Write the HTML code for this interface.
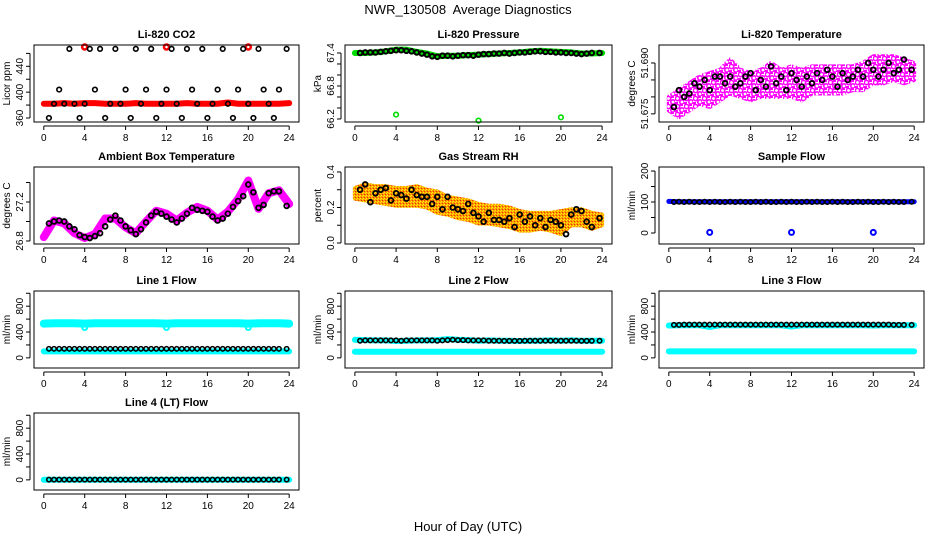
<!DOCTYPE html>
<html><head><meta charset="utf-8"><style>
body{margin:0;background:#fff;}
svg{display:block;font-family:"Liberation Sans",Arial,sans-serif;}
</style></head><body>
<svg id="chart" width="936" height="540" viewBox="0 0 936 540" xmlns="http://www.w3.org/2000/svg">
<defs>
<pattern id="rhpat" width="3" height="3" patternUnits="userSpaceOnUse">
<rect width="3" height="3" fill="#ff9900"/><rect x="0" y="0" width="1" height="1" fill="#ffff00"/><rect x="2" y="1" width="1" height="1" fill="#ffee00"/><rect x="1" y="2" width="1" height="1" fill="#ee3300"/>
</pattern>
<pattern id="magpat" width="9" height="8" patternUnits="userSpaceOnUse">
<rect width="9" height="8" fill="#ffffff"/>
<circle cx="2.5" cy="2.5" r="2.2" fill="none" stroke="#ff00ff" stroke-width="1.6"/>
<circle cx="7" cy="6" r="2.2" fill="none" stroke="#ff00ff" stroke-width="1.6"/>
<rect x="5" y="0" width="3" height="2" fill="#ff00ff"/>
<rect x="0" y="6" width="3" height="2" fill="#ff00ff"/>
</pattern>
</defs>
<text x="468" y="14" font-size="13" text-anchor="middle" style="white-space:pre">NWR_130508  Average Diagnostics</text>
<text x="468" y="531" font-size="13" text-anchor="middle">Hour of Day (UTC)</text>
</svg>
<script>
const hours=[0,1,2,3,4,5,6,7,8,9,10,11,12,13,14,15,16,17,18,19,20,21,22,23,24];
const halfHours=[0.5,1,1.5,2,2.5,3,3.5,4,4.5,5,5.5,6,6.5,7,7.5,8,8.5,9,9.5,10,10.5,11,11.5,12,12.5,13,13.5,14,14.5,15,15.5,16,16.5,17,17.5,18,18.5,19,19.5,20,20.5,21,21.5,22,22.5,23,23.75];
const xTicks=[0,4,8,12,16,20,24];
const outlierHours=[4,12,20];

// CO2
const co2Black=[360,382,404,382,467,382,360,382,467,404,467,360,382,467,382,404,360,467,382,404,467,360,382,404,467,382,360,467,404,382,467,360,382,404,467,382,360,404,467,382,360,467,404,382,360,404,467];
const co2Red=[382,382,383,382,383,383,382,382,382,383,382,382,382,382,383,382,382,382,384,382,382,382,382,382,383];
const co2RedOut=[470,470,470];
// Pressure
const presGreen=[67.40,67.40,67.41,67.43,67.46,67.46,67.42,67.39,67.34,67.35,67.35,67.36,67.37,67.38,67.39,67.40,67.41,67.43,67.44,67.43,67.42,67.41,67.39,67.39,67.40];
const presBlack=[67.40,67.41,67.41,67.41,67.42,67.43,67.44,67.45,67.45,67.44,67.43,67.41,67.39,67.37,67.34,67.33,67.35,67.35,67.34,67.35,67.36,67.36,67.35,67.37,67.38,67.38,67.39,67.39,67.40,67.39,67.40,67.41,67.41,67.42,67.43,67.43,67.42,67.42,67.41,67.41,67.40,67.40,67.39,67.38,67.39,67.40,67.40];
const presOut=[66.28,66.17,66.23];
// Li-820 temperature
const tempLo=[51.676,51.674,51.676,51.678,51.677,51.679,51.681,51.680,51.679,51.680,51.680,51.680,51.680,51.679,51.681,51.681,51.681,51.681,51.682,51.682,51.684,51.684,51.685,51.684,51.685];
const tempHi=[51.680,51.682,51.684,51.686,51.687,51.688,51.691,51.688,51.687,51.688,51.690,51.688,51.689,51.688,51.689,51.689,51.689,51.689,51.689,51.690,51.692,51.692,51.692,51.691,51.690];
const tempBlack=[51.677,51.682,51.680,51.681,51.684,51.683,51.685,51.682,51.686,51.686,51.684,51.686,51.683,51.684,51.686,51.687,51.682,51.685,51.683,51.689,51.684,51.686,51.682,51.687,51.685,51.683,51.686,51.684,51.687,51.685,51.688,51.686,51.683,51.687,51.685,51.686,51.688,51.686,51.690,51.688,51.686,51.688,51.690,51.687,51.688,51.691,51.688];
// Ambient
const ambMag=[26.84,27.01,26.98,26.88,26.83,26.87,27.03,27.03,26.94,26.88,27.00,27.11,27.08,27.01,27.09,27.15,27.11,27.02,27.10,27.23,27.42,27.13,27.29,27.32,27.18];
const ambBlack=[26.98,27.00,27.01,27.00,26.95,26.92,26.86,26.84,26.83,26.85,26.88,26.95,27.02,27.06,27.01,26.95,26.91,26.87,26.92,26.99,27.06,27.10,27.08,27.05,27.02,26.99,27.03,27.08,27.14,27.12,27.11,27.10,27.05,27.01,27.03,27.08,27.15,27.21,27.26,27.38,27.30,27.14,27.17,27.29,27.31,27.31,27.16];
// RH
const rhLo=[0.25,0.24,0.23,0.22,0.21,0.21,0.21,0.20,0.17,0.16,0.14,0.13,0.11,0.11,0.10,0.09,0.07,0.07,0.08,0.07,0.05,0.10,0.10,0.08,0.10];
const rhHi=[0.31,0.33,0.32,0.32,0.31,0.31,0.32,0.30,0.29,0.26,0.25,0.24,0.22,0.21,0.21,0.20,0.18,0.17,0.17,0.17,0.18,0.19,0.19,0.17,0.16];
const rhBlack=[0.30,0.33,0.23,0.28,0.30,0.31,0.24,0.28,0.27,0.25,0.30,0.27,0.26,0.26,0.22,0.26,0.19,0.26,0.20,0.19,0.18,0.22,0.17,0.15,0.12,0.17,0.13,0.13,0.12,0.14,0.09,0.16,0.12,0.15,0.10,0.14,0.09,0.13,0.12,0.10,0.05,0.16,0.19,0.18,0.12,0.09,0.14];
// Sample flow
const sampBlue=[102,101,101,101,101,101,101,101,101,101,101,101,101,101,101,101,101,101,101,101,101,101,101,101,101];
const sampBlack=[100,101,100,101,100,100,101,100,101,100,100,101,100,101,100,100,101,100,101,100,100,101,100,101,100,100,101,100,101,100,100,101,100,101,100,100,101,100,101,100,100,101,100,101,100,100,101];
const sampOut=[2,2,2];
// Line flows
const l1Hi=[530,535,535,535,530,535,535,535,535,535,535,535,530,535,535,535,535,535,535,535,530,535,535,535,530];
const l1Lo=[100,100,100,100,100,100,100,100,100,100,100,100,100,100,100,100,100,100,100,100,100,100,100,100,100];
const l1Black=[140,140,140,140,140,140,140,140,140,140,140,140,140,140,140,140,140,140,140,140,140,140,140,140,140,140,140,140,140,140,140,140,140,140,140,140,140,140,140,140,140,140,140,140,140,140,140];
const l1Out=[470,470,470];
const l2Hi=[280,275,270,270,260,265,270,270,275,290,280,275,265,270,265,265,260,265,265,270,265,270,265,265,265];
const l2Lo=[95,95,95,95,95,95,95,95,95,95,95,95,95,95,95,95,95,95,95,95,95,95,95,95,95];
const l2Black=[265,270,270,270,270,270,270,270,265,270,270,270,270,270,270,265,270,275,280,275,275,270,270,270,270,265,265,265,262,262,262,262,265,265,265,265,265,265,265,265,265,265,265,262,262,262,265];
const l3Hi=[500,505,505,505,480,505,505,505,505,505,505,505,485,505,505,505,505,505,505,505,500,505,505,505,505];
const l3Lo=[100,100,100,100,100,100,100,100,100,100,100,100,100,100,100,100,100,100,100,100,100,100,100,100,100];
const l3Black=[510,510,515,515,515,515,515,515,515,515,515,515,515,515,515,515,515,515,515,515,515,515,515,515,515,515,515,515,515,515,515,515,515,515,515,515,515,515,515,515,515,515,515,510,510,510,510];
const l4Cyan=[2,2,2,2,2,2,2,2,2,2,2,2,2,2,2,2,2,2,2,2,2,2,2,2,2];
const l4Black=[3,3,3,3,3,3,3,3,3,3,3,3,3,3,3,3,3,3,3,3,3,3,3,3,3,3,3,3,3,3,3,3,3,3,3,3,3,3,3,3,3,3,3,3,3,3,3];

const flowTicks=[0,200,400,600,800,1000], flowLabels=['0','','400','','800',''];

const NS='http://www.w3.org/2000/svg';
const svg=document.getElementById('chart');
function mk(tag,attrs,parent){const e=document.createElementNS(NS,tag);for(const k in attrs)e.setAttribute(k,attrs[k]);(parent||svg).appendChild(e);return e;}

const cols=[[34,299],[345,612],[659,924]];
const rows=[45,167,291,413];
const H=77;

function panel(slug,title,ytitle,col,row,ymin,ymax,yTicks,yLabels,draw){
  const [L,R]=cols[col]; const T=rows[row]; const B=T+H;
  const g=mk('g',{});
  
  
  const xs=v=>L+(v+0.96)/25.92*(R-L);
  const ys=v=>B-(v-ymin)/(ymax-ymin)*(B-T);
  const t=mk('text',{x:(L+R)/2,y:T-7,'font-size':11,'font-weight':'bold','text-anchor':'middle'},g);
  t.textContent=title;
  
  
  const yt=mk('text',{transform:`translate(${L-24},${(T+B)/2}) rotate(-90)`,'font-size':10,'text-anchor':'middle'},g);
  yt.textContent=ytitle;
  
  
  const dg=mk('g',{},g);
  
  
  draw(dg,xs,ys);
  const box=mk('rect',{x:L,y:T,width:R-L,height:H,fill:'none',stroke:'#000','stroke-width':1},g);
  
  
  const xa=mk('g',{},g);
  
  
  mk('line',{x1:xs(xTicks[0]),x2:xs(xTicks[xTicks.length-1]),y1:B+4,y2:B+4,stroke:'#000'},xa);
  xTicks.forEach(v=>{
    mk('line',{x1:xs(v),x2:xs(v),y1:B+4,y2:B+8,stroke:'#000'},xa);
    const tl=mk('text',{x:xs(v),y:B+19,'font-size':10,'text-anchor':'middle'},xa);
    tl.textContent=String(v);
  });
  const ya=mk('g',{},g);
  
  
  mk('line',{x1:L-4,x2:L-4,y1:ys(yTicks[0]),y2:ys(yTicks[yTicks.length-1]),stroke:'#000'},ya);
  yTicks.forEach((v,i)=>{
    mk('line',{x1:L-8,x2:L-4,y1:ys(v),y2:ys(v),stroke:'#000'},ya);
    if(yLabels[i]){
      const tl=mk('text',{transform:`translate(${L-11},${ys(v)}) rotate(-90)`,'font-size':10,'text-anchor':'middle'},ya);
      tl.textContent=yLabels[i];
    }
  });
}
function pts(g,xa,ya,xs,ys,color,name,r,sw){
  const n=Math.min(xa.length,ya.length);
  for(let i=0;i<n;i++){
    const c=mk('circle',{cx:xs(xa[i]),cy:ys(ya[i]),r:r||2.3,fill:'none',stroke:color,'stroke-width':sw||1.6},g);
    
    
  }
}
function line(g,xa,ya,xs,ys,color,w,name){
  const p=mk('polyline',{points:xa.map((x,i)=>xs(x)+','+ys(ya[i])).join(' '),fill:'none',stroke:color,'stroke-width':w,'stroke-linejoin':'round','stroke-linecap':'round'},g);
  
  
}
function band(g,xa,lo,hi,xs,ys,fill,name,sw){
  const top=xa.map((x,i)=>xs(x)+','+ys(hi[i]));
  const bot=xa.map((x,i)=>xs(x)+','+ys(lo[i])).reverse();
  const p=mk('polygon',{points:top.concat(bot).join(' '),fill:fill,stroke:fill,'stroke-width':sw,'stroke-linejoin':'round'},g);
  
  
}

panel('co2','Li-820 CO2','Licor ppm',0,0,353.8,473,[360,380,400,420,440,460],['360','','400','','440',''],(g,xs,ys)=>{
  line(g,hours,co2Red,xs,ys,'#ff0000',6,'co2-red-band');
  pts(g,outlierHours,co2RedOut,xs,ys,'#ff0000','co2-red-outlier',2.5,2.5);
  pts(g,halfHours,co2Black,xs,ys,'#000','co2-point');
});
panel('pressure','Li-820 Pressure','kPa',1,0,66.145,67.545,[66.2,66.4,66.6,66.8,67.0,67.2,67.4],['66.2','','','66.8','','','67.4'],(g,xs,ys)=>{
  line(g,hours,presGreen,xs,ys,'#00dd00',6,'pressure-green-band');
  pts(g,outlierHours,presOut,xs,ys,'#00dd00','pressure-outlier');
  pts(g,halfHours,presBlack,xs,ys,'#000','pressure-point',2.3,2);
});
panel('li820-temp','Li-820 Temperature','degrees C',2,0,51.6726,51.6953,[51.675,51.680,51.685,51.690],['51.675','','','51.690'],(g,xs,ys)=>{
  band(g,hours,tempLo,tempHi,xs,ys,'url(#magpat)','temp-magenta-band',4);
  pts(g,halfHours,tempBlack,xs,ys,'#000','temp-point',2.4,1.8);
});
panel('ambient','Ambient Box Temperature','degrees C',0,1,26.769,27.559,[26.8,27.0,27.2,27.4],['26.8','','27.2',''],(g,xs,ys)=>{
  line(g,hours,ambMag,xs,ys,'#ff00ff',8,'ambient-magenta-band');
  pts(g,halfHours,ambBlack,xs,ys,'#000','ambient-point',2.4,1.8);
});
panel('rh','Gas Stream RH','percent',1,1,-0.0056,0.428,[0,0.1,0.2,0.3,0.4],['0.0','','0.2','','0.4'],(g,xs,ys)=>{
  band(g,hours,rhLo,rhHi,xs,ys,'url(#rhpat)','rh-orange-band',4);
  pts(g,halfHours,rhBlack,xs,ys,'#000','rh-point',2.4,1.8);
});
panel('sample','Sample Flow','ml/min',2,1,-35.5,213,[0,50,100,150,200],['0','','100','','200'],(g,xs,ys)=>{
  line(g,hours,sampBlue,xs,ys,'#0000ff',5,'sample-blue-line');
  pts(g,outlierHours,sampOut,xs,ys,'#0000ff','sample-outlier',2.5,2);
  pts(g,halfHours,sampBlack,xs,ys,'#000','sample-point',2.2,1.6);
});
panel('line1','Line 1 Flow','ml/min',0,2,-157,1035,flowTicks,flowLabels,(g,xs,ys)=>{
  line(g,hours,l1Hi,xs,ys,'#00ffff',8,'line1-cyan-high');
  line(g,hours,l1Lo,xs,ys,'#00ffff',6,'line1-cyan-low');
  pts(g,outlierHours,l1Out,xs,ys,'#00ffff','line1-outlier',2.5,2);
  pts(g,halfHours,l1Black,xs,ys,'#000','line1-point',2.2,1.6);
});
panel('line2','Line 2 Flow','ml/min',1,2,-157,1035,flowTicks,flowLabels,(g,xs,ys)=>{
  line(g,hours,l2Hi,xs,ys,'#00ffff',6,'line2-cyan-high');
  line(g,hours,l2Lo,xs,ys,'#00ffff',6,'line2-cyan-low');
  pts(g,halfHours,l2Black,xs,ys,'#000','line2-point',2.2,1.6);
});
panel('line3','Line 3 Flow','ml/min',2,2,-157,1035,flowTicks,flowLabels,(g,xs,ys)=>{
  line(g,hours,l3Hi,xs,ys,'#00ffff',6,'line3-cyan-high');
  line(g,hours,l3Lo,xs,ys,'#00ffff',6,'line3-cyan-low');
  pts(g,halfHours,l3Black,xs,ys,'#000','line3-point',2.2,1.6);
});
panel('line4','Line 4 (LT) Flow','ml/min',0,3,-157,1035,flowTicks,flowLabels,(g,xs,ys)=>{
  line(g,hours,l4Cyan,xs,ys,'#00ffff',6,'line4-cyan-line');
  pts(g,halfHours,l4Black,xs,ys,'#000','line4-point',2.2,1.6);
});
</script>
</body></html>
